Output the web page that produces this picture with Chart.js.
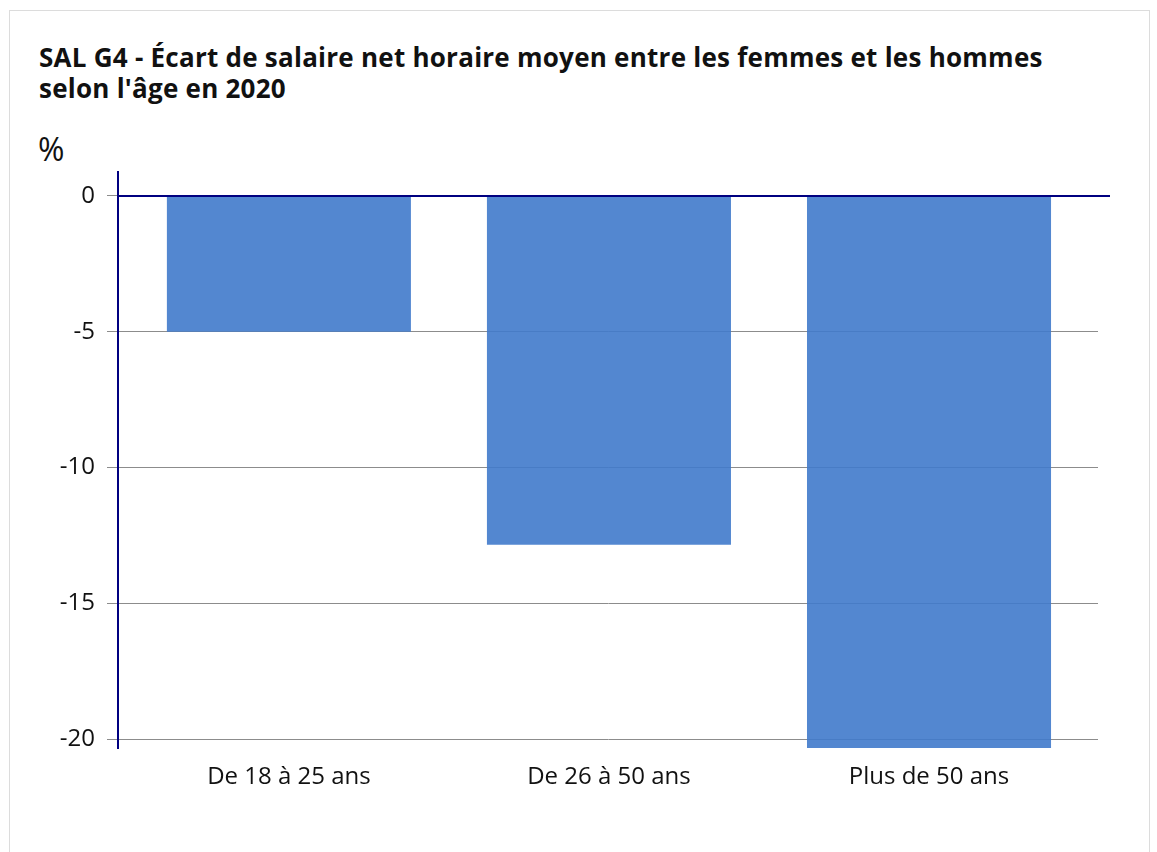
<!DOCTYPE html>
<html lang="fr">
<head>
<meta charset="utf-8">
<script src="https://cdn.jsdelivr.net/npm/chart.js@4"></script>
<style>
  html, body { margin: 0; padding: 0; background: #fff; }
  body { width: 1157px; height: 852px; position: relative; overflow: hidden; font-family: "Open Sans", sans-serif; }
  #cadre { position: absolute; left: 9px; top: 10px; width: 1139px; height: 860px; border: 1px solid #dcdcdc; }
  #titre { position: absolute; left: 39px; top: 42px; width: 1040px; margin: 0; font-size: 26px; letter-spacing: 0.25px; font-weight: bold; line-height: 31px; color: #111; }
  #unite { position: absolute; left: 38px; top: 129px; font-size: 32px; line-height: 40px; color: #111; }
  #zone { position: absolute; left: 0; top: 120px; width: 1157px; height: 732px; }
</style>
</head>
<body>
<div id="cadre"></div>
<h1 id="titre">SAL G4 - Écart de salaire net horaire moyen entre les femmes et les hommes selon l'âge en 2020</h1>
<div id="unite">%</div>
<div id="zone"><canvas id="graphique"></canvas></div>
<script>
// --- DONNÉES ---
const categories = ['De 18 à 25 ans', 'De 26 à 50 ans', 'Plus de 50 ans'];
const ecarts = [-5.0, -12.85, -20.33];
const graduations = [-20, -15, -10, -5, 0];

// Ligne du zéro, dessinée par-dessus les barres et un peu au-delà de la zone
const ligneZero = {
    id: 'ligneZero',
    afterDatasetsDraw(chart) {
        const y = chart.scales.y.getPixelForValue(0);
        const ctx = chart.ctx;
        ctx.save();
        ctx.strokeStyle = '#000080';
        ctx.lineWidth = 2;
        ctx.beginPath();
        ctx.moveTo(chart.chartArea.left, y);
        ctx.lineTo(chart.chartArea.right + 12, y);
        ctx.stroke();
        ctx.restore();
    }
};

const ctx = document.getElementById('graphique').getContext('2d');
new Chart(ctx, {
    type: 'bar',
    data: {
        datasets: [{
            data: ecarts.map((v, i) => ({ x: i, y: v })),
            backgroundColor: 'rgba(64, 122, 203, 0.9)',
            borderWidth: 0,
            categoryPercentage: 1,
            barPercentage: 0.7625
        }]
    },
    options: {
        responsive: true,
        maintainAspectRatio: false,
        animation: false,
        layout: { padding: { top: 52, right: 59, bottom: 44, left: 0 } },
        plugins: {
            legend: { display: false },
            tooltip: { enabled: false }
        },
        scales: {
            x: {
                type: 'linear',
                offset: false,
                min: -0.534,
                max: 2.528,
                afterBuildTicks(scale) {
                    scale.ticks = categories.map((c, i) => ({ value: i }));
                },
                grid: { display: false, offset: false },
                border: { display: false },
                ticks: {
                    color: '#111',
                    padding: 7,
                    maxRotation: 0,
                    autoSkip: false,
                    font: { family: 'Open Sans', size: 24 },
                    callback: (v) => categories[v]
                },
                afterFit(scale) { scale.height = 60; }
            },
            y: {
                min: -20.33,
                max: 0.88,
                afterBuildTicks(scale) {
                    scale.ticks = graduations.map(v => ({ value: v }));
                },
                grid: {
                    color: '#8c8c8c',
                    lineWidth: 1,
                    tickLength: 11,
                    drawTicks: true
                },
                border: { display: true, color: '#000080', width: 2 },
                ticks: {
                    color: '#111',
                    padding: 12,
                    font: { family: 'Open Sans', size: 24 }
                },
                afterFit(scale) { scale.width = 118; }
            }
        }
    },
    plugins: [ligneZero]
});
</script>
</body>
</html>
